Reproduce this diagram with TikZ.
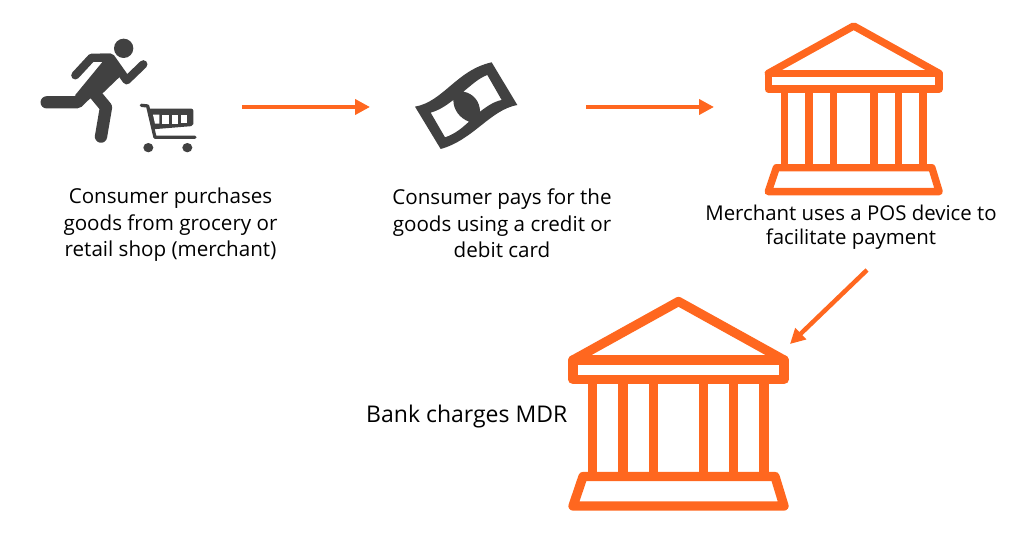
\documentclass[tikz,border=0pt]{standalone}
\usepackage{fontspec}
\setmainfont{Open Sans}
\usetikzlibrary{arrows.meta}
\definecolor{brandorange}{HTML}{FF671F}
\definecolor{icongray}{HTML}{414141}
\tikzset{
  x=1pt,y=-1pt,
  caption/.style={font=\fontsize{20.6}{26.5}\selectfont,align=center,text=black,inner sep=0pt},
  flow/.style={draw=brandorange,line width=4.5pt,-{Triangle[length=15pt,width=15pt]},shorten >=0pt},
  bankline/.style={draw=brandorange,line join=round,line cap=round},
  ink/.style={icongray,line cap=round,line join=round},
  pics/bank/.style={code={
    \draw[bankline,line width=#1] (-105.5,58.5) -- (0,0) -- (105.5,58.5);
    \draw[bankline,line width=#1] (-105.5,58.5) rectangle (105.5,78);
    \foreach \cx in {-85.7,-55.4,-25,25,55.3,85.6}
      \draw[bankline,line width=#1,line cap=butt] (\cx,78) -- (\cx,175);
    \draw[bankline,line width=#1] (-95.5,175) -- (96.5,175) -- (105.5,204.5) -- (-105.5,204.5) -- cycle;
  }}
}
\begin{document}
\begin{tikzpicture}
\useasboundingbox (0,0) rectangle (1024,534);
% runner
\begin{scope}[shift={(20,20)},x=0.3333pt,y=-0.3333pt]
  \fill[icongray] (311,85) circle (29);
  \draw[ink,line width=8.3pt,fill=none] (166,166) -- (215,113) -- (272,113) -- (320,181) -- (370,133);
  \fill[icongray,line join=round] (248,125) -- (165,226) -- (205,238) -- (250,218) -- (305,165) -- (272,101) -- (240,101) -- cycle;
  \draw[ink,line width=12.3pt,fill=none] (80,247) -- (172,247) -- (215,205);
  \draw[ink,line width=12.3pt,fill=none] (225,222) -- (258,262) -- (243,350);
  % cart
  \draw[ink,line width=3.3pt,fill=none] (364,256) -- (383,258) -- (405,352) -- (525,352);
  \fill[icongray,rounded corners=2pt] (385,266) -- (520,266) -- (520,318) -- (398,328) -- cycle;
  \fill[white] (399,284) -- (418,284) -- (418,311) -- (405,311) -- cycle;
  \fill[white] (427,284) rectangle (446,311);
  \fill[white] (455,284) rectangle (474,311);
  \fill[white] (483,284) rectangle (502,309);
  \fill[icongray] (385,383) ellipse (15 and 14);
  \fill[icongray] (502,383) ellipse (15 and 14);
\end{scope}
% banknote
\begin{scope}[shift={(400,50)},x=0.3333pt,y=-0.3333pt]
  \fill[icongray,even odd rule]
    (45,170) .. controls (130,155) and (170,60) .. (275,37) -- (352,165)
    .. controls (270,180) and (220,270) .. (122,297) -- cycle
    (92,188) .. controls (120,180) and (140,165) .. (160,150)
    .. controls (160,180) and (180,205) .. (207,215)
    .. controls (185,235) and (165,252) .. (135,262) -- cycle
    (190,125) .. controls (215,105) and (235,85) .. (262,75) -- (305,150)
    .. controls (280,155) and (260,170) .. (240,185)
    .. controls (240,155) and (220,130) .. (190,125) -- cycle;
\end{scope}
% banks
\pic at (853.7,26) [scale=0.81] {bank=7.4pt};
\pic at (678.5,301.5) {bank=9.3pt};
% arrows
\coordinate (a1s) at (242,107);
\coordinate (a1e) at (370,107);
\coordinate (a2s) at (586,107);
\coordinate (a2e) at (714,107);
\coordinate (a3s) at (867,270);
\coordinate (a3e) at (790,344);
\draw[flow] (a1s) -- (a1e);
\draw[flow] (a2s) -- (a2e);
\draw[flow] (a3s) -- (a3e);
% captions
\node[caption] (t1) at (170.5,225) {Consumer purchases\\goods from grocery or\\retail shop (merchant)};
\node[caption] (t2) at (502,223.5) {Consumer pays for the\\goods using a credit or\\debit card};
\node[caption,font=\fontsize{20.4}{24}\selectfont] (t3) at (851,227) {Merchant uses a POS device to\\facilitate payment};
\node[caption,anchor=west,font=\fontsize{23}{28}\selectfont] (t4) at (366,417) {Bank charges MDR};
\end{tikzpicture}
\end{document}
